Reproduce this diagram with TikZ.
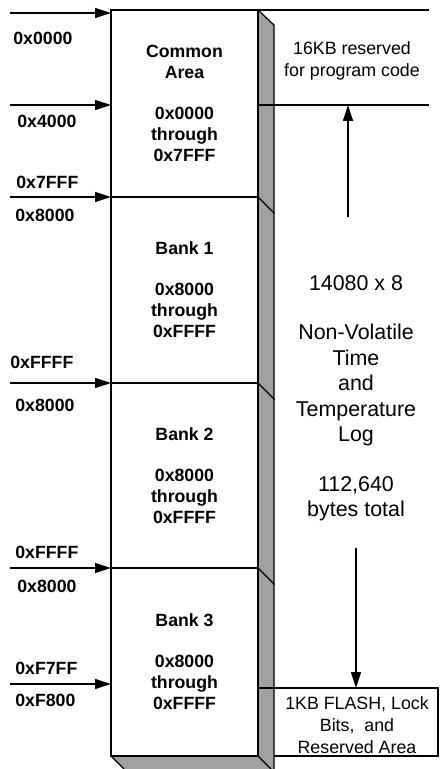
\documentclass[tikz,border=0pt]{standalone}
\usepackage{fontspec}
\setmainfont{Liberation Sans}
\usetikzlibrary{arrows.meta,positioning}
\definecolor{side}{HTML}{A0A0A0}
\tikzset{
  region/.style={draw, line width=0.6pt, minimum width=73.5pt, inner sep=0pt,
                 align=center, font=\fontsize{8.85}{10.5}\selectfont\bfseries},
  addr/.style={anchor=west, inner sep=0pt, font=\fontsize{8.85}{10.5}\selectfont\bfseries},
  note/.style={align=center, inner sep=0pt, font=\fontsize{8.9}{10.9}\selectfont},
  big/.style={align=center, inner sep=0pt, font=\fontsize{10.7}{12.75}\selectfont},
  ar/.style={-{Triangle[length=8pt,width=5pt]}, line width=0.6pt},
  thinline/.style={line width=0.6pt}
}

\begin{document}
\begin{tikzpicture}[x=0.5pt,y=-0.5pt]
  \useasboundingbox (0,0) rectangle (439,769);

  % shaded side and bottom of the block
  \fill[side] (258,10) -- (274,25) -- (274,769) -- (124,769) -- (111,756) -- (258,756) -- cycle;
  \draw[thinline] (258,10) -- (274,25) -- (274,769);
  \draw[thinline] (111,756) -- (124,769);
  \draw[thinline] (258,756) -- (271,769);

  % the four areas
  \node[region, minimum height=93.5pt] (common) at (184.5,103.5)
     {Common\\Area\\[10pt]0x0000\\through\\0x7FFF};
  \node[region, minimum height=93pt] (bank1) at (184.5,290)
     {Bank 1\\[10pt]0x8000\\through\\0xFFFF};
  \node[region, minimum height=92.5pt] (bank2) at (184.5,475.5)
     {Bank 2\\[10pt]0x8000\\through\\0xFFFF};
  \node[region, minimum height=94pt] (bank3) at (184.5,662)
     {Bank 3\\[10pt]0x8000\\through\\0xFFFF};
  \foreach \n in {common,bank1,bank2}
    \draw[thinline] (\n.south east) -- ++(16,16);

  % address arrows
  \foreach \y [count=\i] in {13,105,197,383,568,684} {
    \coordinate (from\i) at (10,\y);
    \coordinate (to\i) at (111,\y);
    \draw[ar] (from\i) -- (to\i);
  }
  \node[addr] (a1) at (13,38) {0x0000};
  \node[addr] (a2) at (17,121) {0x4000};
  \node[addr] (a3) at (16,182) {0x7FFF};
  \node[addr] (a4) at (15,215) {0x8000};
  \node[addr] (a5) at (10,362) {0xFFFF};
  \node[addr] (a6) at (15,405) {0x8000};
  \node[addr] (a7) at (15,552) {0xFFFF};
  \node[addr] (a8) at (17,586) {0x8000};
  \node[addr] (a9) at (15,668) {0xF7FF};
  \node[addr] (a10) at (15,700) {0xF800};

  % right hand side
  \draw[thinline] (258,10) -- (429,10);
  \draw[thinline] (258,105) -- (429,105);
  \draw[thinline] (258,688) -- (438,688) -- (438,756) -- (274,756);

  \node[note] (code) at (352,61) {16KB reserved\\for program code};
  \node[big] (log) at (356,398)
     {14080 x 8\\[12pt]Non-Volatile\\Time\\and\\Temperature\\Log\\[12pt]112,640\\bytes total};
  \node[note] (flash) at (357,725) {1KB FLASH, Lock\\Bits,\ \ and\\Reserved Area};

  \coordinate (upstart) at (348,217);
  \coordinate (codefoot) at (348,105);
  \draw[ar] (upstart) -- (codefoot);
  \coordinate (downstart) at (356,548);
  \coordinate (flashhead) at (356,688);
  \draw[ar] (downstart) -- (flashhead);
\end{tikzpicture}
\end{document}
